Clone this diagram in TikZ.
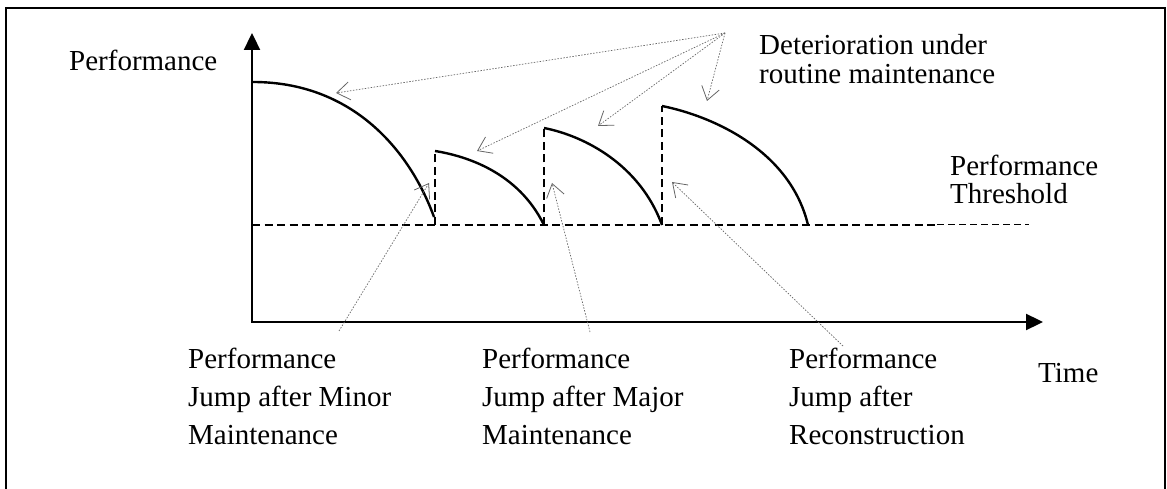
\documentclass[tikz,border=0pt]{standalone}
\usepackage{fontspec}
\setmainfont{Liberation Serif}
\usetikzlibrary{arrows.meta}
\begin{document}
\begin{tikzpicture}[x=1pt,y=-1pt,
  lbl/.style={anchor=base west,inner sep=0pt,font=\fontsize{29}{38}\selectfont},
  axis/.style={line width=2.3pt,line join=miter,{Triangle[length=17pt,width=16pt]}-{Triangle[length=17pt,width=16pt]}},
  curve/.style={line width=2.4pt},
  jump/.style={line width=2.3pt,dash pattern=on 8pt off 4.5pt},
  thinjump/.style={line width=1pt,dash pattern=on 6.5pt off 4.5pt},
  pointer/.style={draw=black!60,line width=0.7pt,dash pattern=on 1.5pt off 1.5pt,
    -{Straight Barb[length=13pt,width=18pt,line width=0.8pt]}},
]
\useasboundingbox (0,0) rectangle (1167,489);
\draw[line width=2.3pt] (6,489) -- (6,8) -- (1165,8) -- (1165,489);

% axes
\coordinate (O) at (252,322);
\coordinate (Ytop) at (252,33);
\coordinate (Xend) at (1043,322);
\draw[axis] (Ytop) -- (O) -- (Xend);

% threshold
\coordinate (T0) at (252,225);
\coordinate (T1) at (937,225);
\coordinate (T2) at (1029,225);
\draw[jump] (T0) -- (T1);
\draw[thinjump] (T1) -- (T2);

% jumps
\coordinate (J1b) at (435,225); \coordinate (J1t) at (435,151);
\coordinate (J2b) at (544,225); \coordinate (J2t) at (544,128);
\coordinate (J3b) at (662,225); \coordinate (J3t) at (662,106);
\draw[jump] (J1b) -- (J1t);
\draw[jump] (J2b) -- (J2t);
\draw[jump] (J3b) -- (J3t);

% deterioration curves
\coordinate (C0) at (253,82);
\coordinate (C0e) at (434,217);
\draw[curve] (C0) .. controls (353,82) and (410,151) .. (C0e);
\draw[curve] (J1t) .. controls (466,156) and (518,172) .. (J2b);
\draw[curve] (J2t) .. controls (585,136) and (640,165) .. (J3b);
\coordinate (C3e) at (808,225);
\draw[curve] (J3t) .. controls (712,116) and (790,150) .. (C3e);

% labels
\node[lbl] (ylab) at (69,71) {Performance};
\node[lbl] (det) at (759,55) {\vtop{\baselineskip=29pt\hbox{Deterioration under}\hbox{routine maintenance}}};
\node[lbl] (thr) at (950,176) {\vtop{\baselineskip=28pt\hbox{Performance}\hbox{Threshold}}};
\node[lbl] (minor) at (188,368) {\vtop{\baselineskip=38pt\hbox{Performance}\hbox{Jump after Minor}\hbox{Maintenance}}};
\node[lbl] (major) at (482,368) {\vtop{\baselineskip=38pt\hbox{Performance}\hbox{Jump after Major}\hbox{Maintenance}}};
\node[lbl] (recon) at (789,368) {\vtop{\baselineskip=38pt\hbox{Performance}\hbox{Jump after}\hbox{Reconstruction}}};
\node[lbl] (time) at (1038,382) {Time};

% pointers
\coordinate (detsrc) at (725,33);
\coordinate (d1) at (336,93);
\coordinate (d2) at (477,151);
\coordinate (d3) at (598,126);
\coordinate (d4) at (707,101);
\draw[pointer] (detsrc) -- (d1);
\draw[pointer] (detsrc) -- (d2);
\draw[pointer] (detsrc) -- (d3);
\draw[pointer] (detsrc) -- (d4);

\coordinate (minsrc) at (339,331);
\coordinate (mintip) at (429,183);
\coordinate (majsrc) at (590,332);
\coordinate (majtip) at (552,183);
\coordinate (recsrc) at (843,346);
\coordinate (rectip) at (672,182);
\draw[pointer] (minsrc) -- (mintip);
\draw[pointer] (majsrc) -- (majtip);
\draw[pointer] (recsrc) -- (rectip);
\end{tikzpicture}
\end{document}
